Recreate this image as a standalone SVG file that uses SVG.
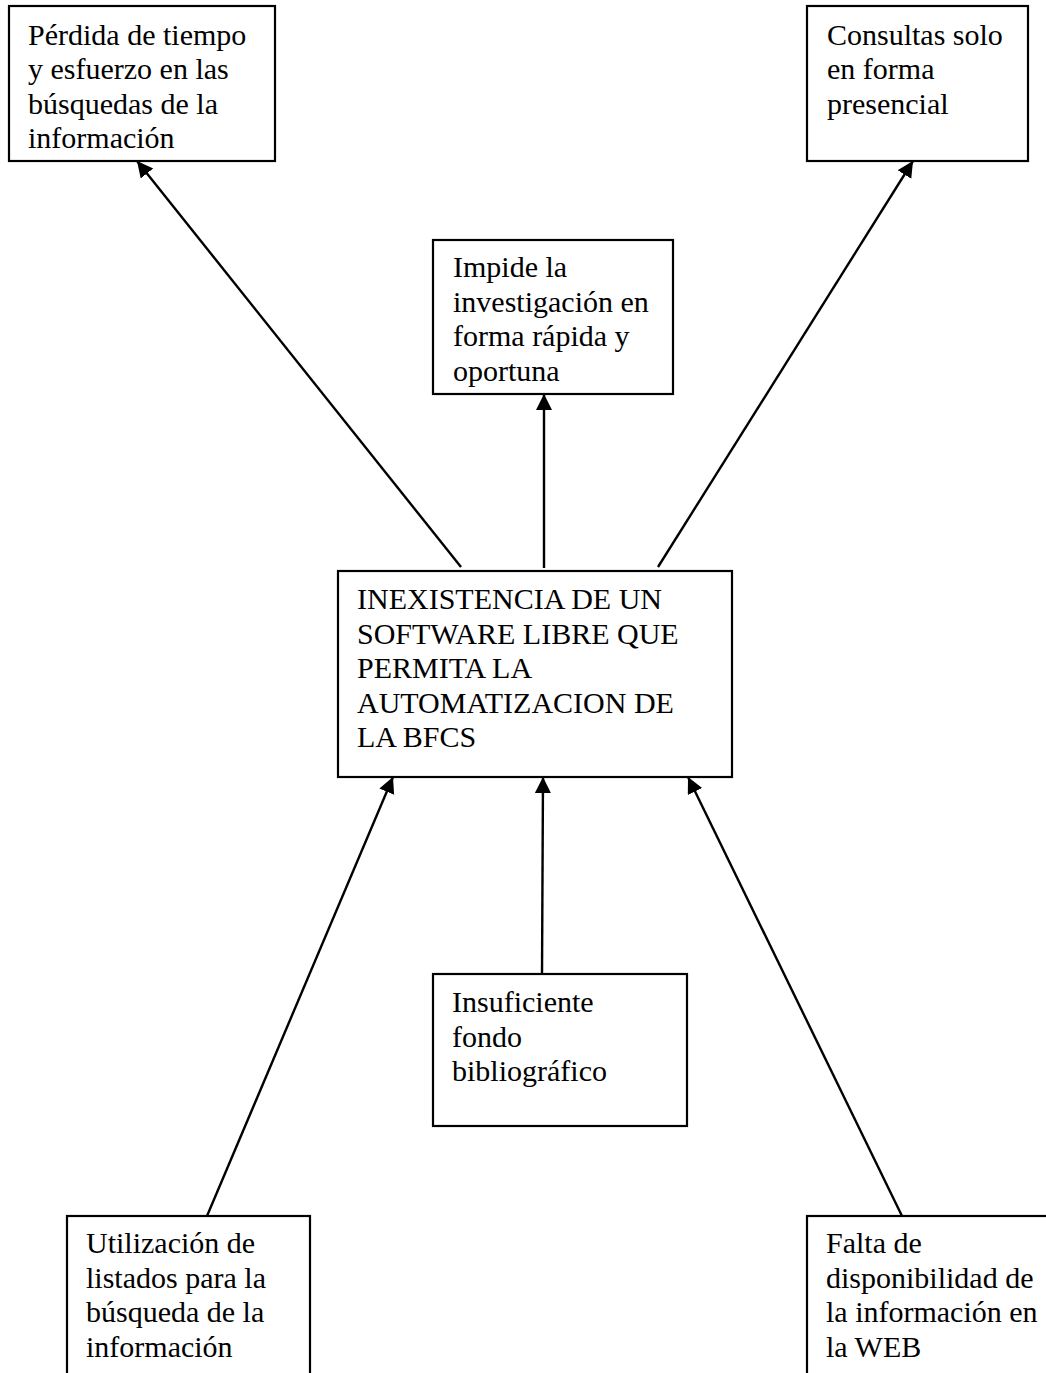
<svg xmlns="http://www.w3.org/2000/svg" width="1046" height="1373" viewBox="0 0 1046 1373">
  <style>
    .box { fill: #ffffff; stroke: #000000; stroke-width: 2.2; }
    .label { font-family: "Liberation Serif", "Times New Roman", serif; font-size: 30px; fill: #000000; }
    .link { stroke: #000000; stroke-width: 2.4; fill: none; marker-end: url(#arrow); }
  </style>
  <defs>
    <marker id="arrow" markerUnits="userSpaceOnUse" markerWidth="18" markerHeight="18" refX="16" refY="8" orient="auto">
      <path d="M0,0 L16,8 L0,16 Z" fill="#000000"/>
    </marker>
  </defs>
  <rect width="1046" height="1373" fill="#ffffff"/>

  <!-- connectors -->
  <g id="connectors">
    <line class="link" x1="461" y1="567" x2="137" y2="161"/>
    <line class="link" x1="544" y1="568" x2="544" y2="394"/>
    <line class="link" x1="658" y1="567" x2="913" y2="161"/>
    <line class="link" x1="207" y1="1216" x2="393" y2="777"/>
    <line class="link" x1="542" y1="974" x2="543" y2="777"/>
    <line class="link" x1="902" y1="1216" x2="688" y2="777"/>
  </g>

  <!-- effects -->
  <g id="node-perdida">
    <rect class="box" x="9" y="6" width="266" height="155"/>
    <text class="label" x="28" y="44.5">Pérdida de tiempo</text>
    <text class="label" x="28" y="79">y esfuerzo en las</text>
    <text class="label" x="28" y="113.5">búsquedas de la</text>
    <text class="label" x="28" y="148">información</text>
  </g>

  <g id="node-consultas">
    <rect class="box" x="807" y="6" width="221" height="155"/>
    <text class="label" x="827" y="44.5">Consultas solo</text>
    <text class="label" x="827" y="79">en forma</text>
    <text class="label" x="827" y="113.5">presencial</text>
  </g>

  <g id="node-impide">
    <rect class="box" x="433" y="240" width="240" height="154"/>
    <text class="label" x="453" y="277">Impide la</text>
    <text class="label" x="453" y="311.5">investigación en</text>
    <text class="label" x="453" y="346">forma rápida y</text>
    <text class="label" x="453" y="380.5">oportuna</text>
  </g>

  <!-- central problem -->
  <g id="node-problema">
    <rect class="box" x="338" y="571" width="394" height="206"/>
    <text class="label" x="357" y="609">INEXISTENCIA DE UN</text>
    <text class="label" x="357" y="643.5">SOFTWARE LIBRE QUE</text>
    <text class="label" x="357" y="678">PERMITA LA</text>
    <text class="label" x="357" y="712.5">AUTOMATIZACION DE</text>
    <text class="label" x="357" y="747">LA BFCS</text>
  </g>

  <!-- causes -->
  <g id="node-insuficiente">
    <rect class="box" x="433" y="974" width="254" height="152"/>
    <text class="label" x="452" y="1012">Insuficiente</text>
    <text class="label" x="452" y="1046.5">fondo</text>
    <text class="label" x="452" y="1081">bibliográfico</text>
  </g>

  <g id="node-utilizacion">
    <rect class="box" x="67" y="1216" width="243" height="180"/>
    <text class="label" x="86" y="1253">Utilización de</text>
    <text class="label" x="86" y="1287.5">listados para la</text>
    <text class="label" x="86" y="1322">búsqueda de la</text>
    <text class="label" x="86" y="1356.5">información</text>
  </g>

  <g id="node-falta">
    <rect class="box" x="807" y="1216" width="260" height="180"/>
    <text class="label" x="826" y="1253">Falta de</text>
    <text class="label" x="826" y="1287.5">disponibilidad de</text>
    <text class="label" x="826" y="1322">la información en</text>
    <text class="label" x="826" y="1356.5">la WEB</text>
  </g>
</svg>
